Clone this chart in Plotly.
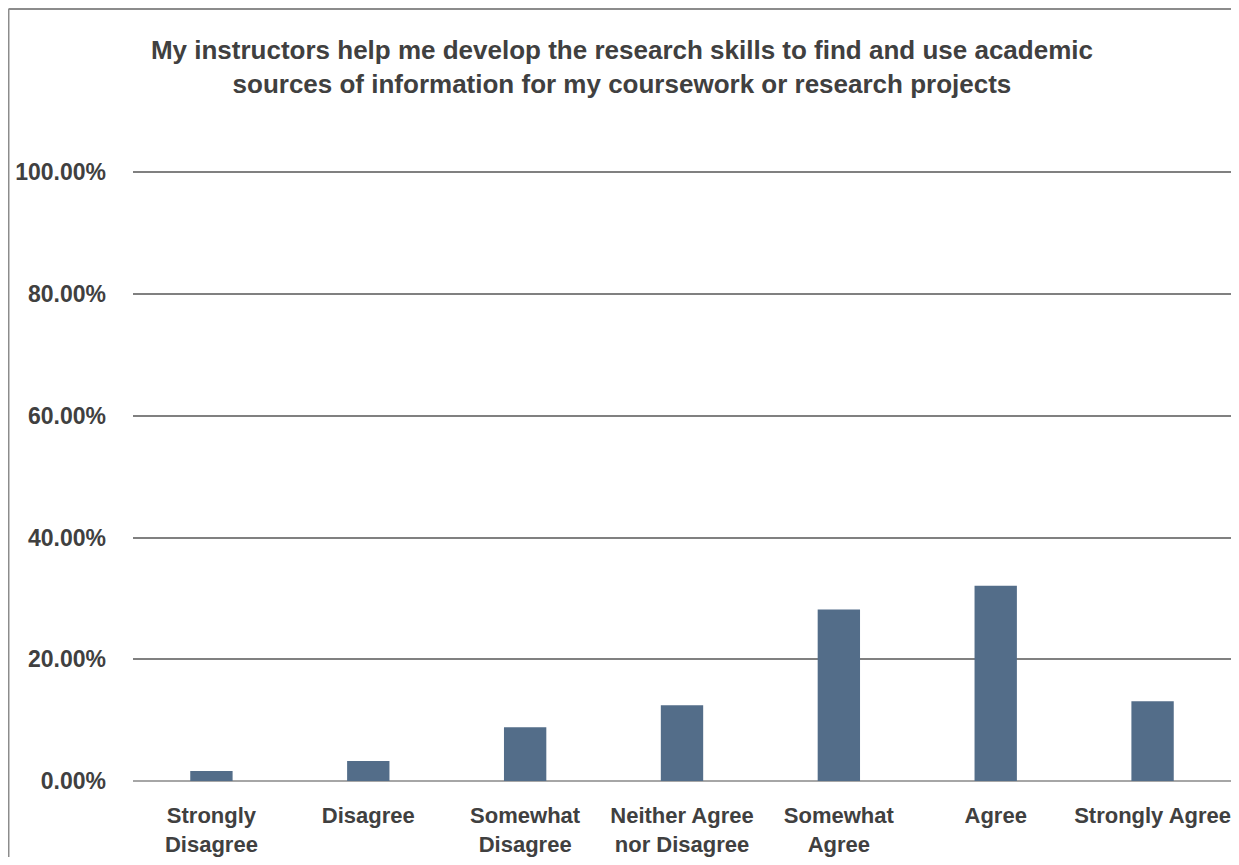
import plotly.graph_objects as go

TEXT_COLOR = "#404040"
BAR_COLOR = "#536D89"
GRID_COLOR = "#808080"
FONT = "Liberation Sans, Arial, sans-serif"

categories = ["Strongly<br>Disagree", "Disagree", "Somewhat<br>Disagree",
              "Neither Agree<br>nor Disagree", "Somewhat<br>Agree", "Agree",
              "Strongly Agree"]
percentages = [1.64, 3.28, 8.85, 12.46, 28.2, 32.1, 13.1]
y_ticks = [0, 20, 40, 60, 80, 100]

fig = go.Figure()
fig.add_trace(go.Bar(x=categories, y=percentages,
                     marker=dict(color=BAR_COLOR, line=dict(width=0)),
                     width=0.27))

# outer chart border (left and top edges visible)
fig.add_shape(type="line", xref="paper", yref="paper",
              x0=-0.1134, x1=-0.1134, y0=-0.2, y1=1.2635,
              line=dict(color="#8C8C8C", width=2))
fig.add_shape(type="line", xref="paper", yref="paper",
              x0=-0.1134, x1=1.01, y0=1.2635, y1=1.2635,
              line=dict(color="#8C8C8C", width=2))

# page body has an 8px margin, so keep the figure inside the window
fig.update_layout(
    width=1223, height=849,
    margin=dict(l=125, r=0, t=162, b=74),
    paper_bgcolor="white", plot_bgcolor="white",
    showlegend=False,
    font=dict(family=FONT, color=TEXT_COLOR, size=20),
    title=dict(text="<b>My instructors help me develop the research skills to find and use academic<br>"
                    "sources of information for my coursework or research projects</b>",
               x=0.502, xanchor="center", y=0.940, yanchor="middle",
               font=dict(family=FONT, size=26, color=TEXT_COLOR)),
    xaxis=dict(tickvals=categories,
               ticktext=[f"<b>{c}</b>" for c in categories],
               tickfont=dict(family=FONT, size=22, color=TEXT_COLOR),
               showline=False, ticks="", ticklabelstandoff=19),
    yaxis=dict(range=[0, 100.4], tickvals=y_ticks,
               ticktext=[f"<b>{v:.2f}%</b>" for v in y_ticks],
               tickfont=dict(family=FONT, size=23, color=TEXT_COLOR),
               showgrid=True, gridcolor=GRID_COLOR, gridwidth=2,
               zeroline=True, zerolinecolor="#A6A6A6", zerolinewidth=2,
               ticks="", ticklabelstandoff=26),
)

fig.write_html("out.html")
